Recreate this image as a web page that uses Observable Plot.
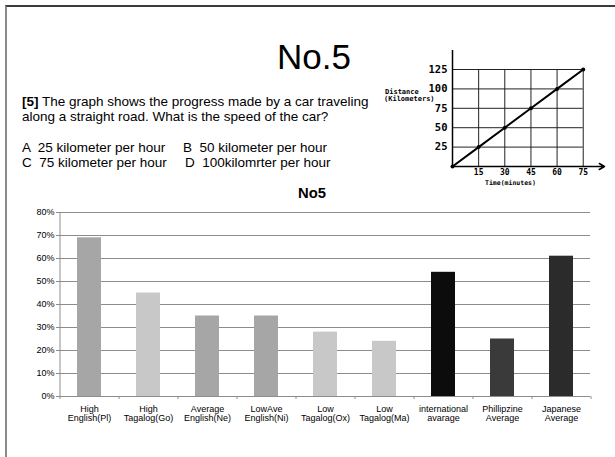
<!DOCTYPE html>
<html><head><meta charset="utf-8">
<script src="https://cdn.jsdelivr.net/npm/d3@7"></script>
<script src="https://cdn.jsdelivr.net/npm/@observablehq/plot@0.6"></script>
<style>
body{margin:0;background:#fff;}
#page{position:relative;width:615px;height:457px;overflow:hidden;background:#fff;font-family:Arial,"Liberation Sans",sans-serif;color:#000;}
#frame{position:absolute;left:5px;top:5px;width:620px;height:470px;border-top:2px solid #3c3c3c;border-left:2px solid #8a8a8a;}
.abs{position:absolute;white-space:pre;}
.q{font-size:13.5px;line-height:15px;}
.mono{font-family:"DejaVu Sans Mono",monospace;font-weight:bold;}
svg{display:block;}
</style></head><body>
<div id="page">
 <div id="frame"></div>
 <div class="abs" style="left:277px;top:39px;font-size:35px;line-height:35px;">No.5</div>
 <div class="abs q" style="left:22px;top:93.5px;"><b>[5]</b> The graph shows the progress made by a car traveling</div>
 <div class="abs q" style="left:22px;top:108.5px;">along a straight road. What is the speed of the car?</div>
 <div class="abs q" style="left:22px;top:139.5px;">A  25 kilometer per hour</div>
 <div class="abs q" style="left:183px;top:139.5px;">B  50 kilometer per hour</div>
 <div class="abs q" style="left:22px;top:154.5px;">C  75 kilometer per hour</div>
 <div class="abs q" style="left:185px;top:154.5px;">D  100kilomrter per hour</div>
 <div class="abs mono" style="left:385px;top:88.5px;font-size:7px;line-height:7px;">Distance</div>
 <div class="abs mono" style="left:384px;top:95.5px;font-size:7px;line-height:7px;">(Kilometers)</div>
 <div class="abs mono" style="left:485px;top:179.5px;font-size:6.5px;line-height:7px;">Time(minutes)</div>
 <div class="abs" style="left:262px;top:185.5px;width:100px;text-align:center;font-size:14.8px;line-height:15px;font-weight:bold;">No5</div>
 <div id="inset" class="abs" style="left:380px;top:40px;"></div>
 <div id="chart" class="abs" style="left:0px;top:200px;"></div>
</div>
<script>
const categories = ["High\nEnglish(Pl)", "High\nTagalog(Go)", "Average\nEnglish(Ne)", "LowAve\nEnglish(Ni)", "Low\nTagalog(Ox)", "Low\nTagalog(Ma)", "international\navarage", "Phillipzine\nAverage", "Japanese\nAverage"];
const values = [0.69, 0.45, 0.35, 0.35, 0.28, 0.24, 0.54, 0.25, 0.61];
const barColors = ["#a6a6a6", "#c8c8c8", "#a6a6a6", "#a6a6a6", "#c8c8c8", "#c8c8c8", "#0c0c0c", "#3a3a3a", "#2b2b2b"];
const yTicks = [0, 0.1, 0.2, 0.3, 0.4, 0.5, 0.6, 0.7, 0.8];

const times = [0, 15, 30, 45, 60, 75];
const distances = [0, 25, 50, 75, 100, 125];
const timeTicks = [15, 30, 45, 60, 75];
const distanceTicks = [25, 50, 75, 100, 125];
const insetXMax = 87.2;
const insetYMax = 149.5;

// main bar chart
const W = 615, ML = 59, MR = 25;
const step = (W - ML - MR) / categories.length;
const rows = categories.map((c, i) => ({category: c, value: values[i], color: barColors[i]}));
const grid = "#8c8c8c";
const chart = Plot.plot({
  width: W, height: 240, marginLeft: ML, marginRight: MR, marginTop: 12, marginBottom: 44,
  style: {fontFamily: "Arial, 'Liberation Sans', sans-serif", background: "transparent", color: "#000"},
  x: {domain: categories, paddingInner: 0.6, paddingOuter: 0.3, label: null},
  y: {domain: [0, 0.8], label: null},
  color: {type: "identity"},
  marks: [
    Plot.gridY(yTicks, {stroke: grid, strokeOpacity: 1}),
    Plot.barY(rows, {x: "category", y: "value", fill: "color"}),
    Plot.ruleY([0], {stroke: grid}),
    Plot.ruleX([categories[0]], {x: d => d, y1: 0, y2: 0.8, dx: -step / 2, stroke: grid}),
    Plot.axisY(yTicks, {tickFormat: d3.format(".0%"), tickSize: 3, tickPadding: 2, fontSize: 9, stroke: grid, label: null}),
    Plot.axisX({tickSize: 0, tickPadding: 9, fontSize: 9, label: null}),
    Plot.axisX(categories, {tickSize: 3, fill: "none", dx: -step / 2, stroke: grid, label: null}),
    Plot.axisX([categories[categories.length - 1]], {tickSize: 3, fill: "none", dx: step / 2, stroke: grid, label: null})
  ]
});
document.getElementById("chart").appendChild(chart);

// inset distance-time graph
const pts = times.map((t, i) => ({t, d: distances[i]}));
const inset = Plot.plot({
  width: 235, height: 150, marginLeft: 72, marginRight: 11, marginTop: 10, marginBottom: 24,
  x: {domain: [0, insetXMax], label: null},
  y: {domain: [0, insetYMax], label: null},
  style: {fontFamily: "'DejaVu Sans Mono', monospace", background: "transparent", color: "#000"},
  marks: [
    Plot.ruleX(timeTicks, {y1: 0, y2: distances[distances.length - 1], stroke: "#222"}),
    Plot.ruleY(distanceTicks, {x1: 0, x2: times[times.length - 1], stroke: "#222"}),
    Plot.ruleX([0], {y1: 0, y2: insetYMax, stroke: "#000", strokeWidth: 1.5}),
    Plot.arrow([0], {x1: 0, x2: insetXMax, y1: 0, y2: 0, stroke: "#000", strokeWidth: 1.5, headLength: 6}),
    Plot.line(pts, {x: "t", y: "d", stroke: "#000", strokeWidth: 2}),
    Plot.dot(pts, {x: "t", y: "d", r: 2, fill: "#000"}),
    Plot.axisY(distanceTicks, {tickSize: 0, tickPadding: 5, fontSize: 10.5, fontWeight: "bold", label: null}),
    Plot.axisX(timeTicks, {tickSize: 0, tickPadding: 3, fontSize: 8, fontWeight: "bold", label: null})
  ]
});
document.getElementById("inset").appendChild(inset);
</script>
</body></html>
